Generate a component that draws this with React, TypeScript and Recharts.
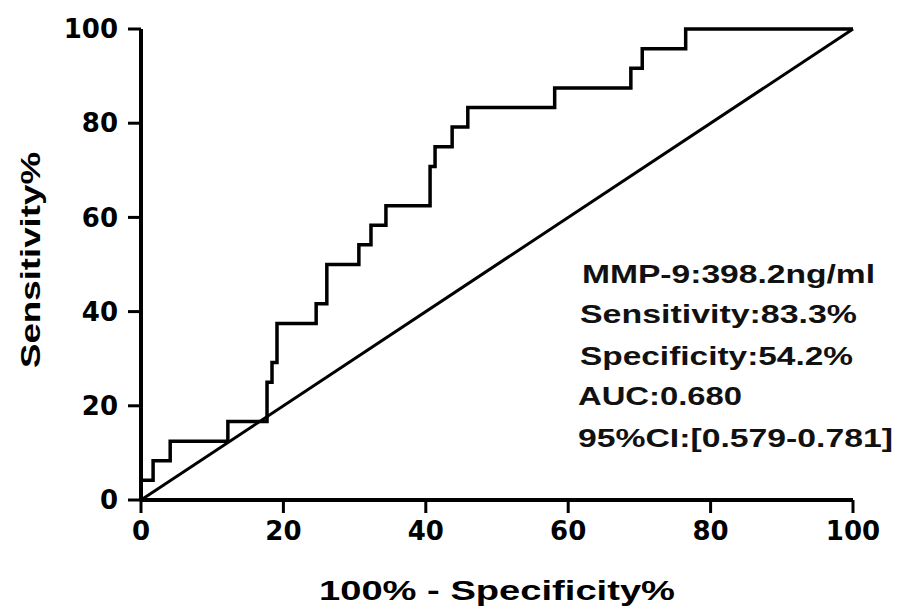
import React from 'react';
import { LineChart, Line, XAxis, YAxis, Label, Customized } from 'recharts';

// ROC curve corners (100% - specificity, sensitivity)
const fpr = [0, 0, 1.7, 4.1, 12.2, 17.7, 18.4, 19.1, 24.6, 26.1, 30.6, 32.3, 34.4, 40.6, 41.3, 43.7, 45.9, 58.1, 68.8, 70.4, 76.5, 100];
const sens = [0, 4.17, 8.33, 12.5, 16.67, 25, 29.17, 37.5, 41.67, 50, 54.17, 58.33, 62.5, 70.83, 75, 79.17, 83.33, 87.5, 91.67, 95.83, 100, 100];

const refX = [0, 100];
const refY = [0, 100];

const ticks = [0, 20, 40, 60, 80, 100];

const notes = [
  'MMP-9:398.2ng/ml',
  'Sensitivity:83.3%',
  'Specificity:54.2%',
  'AUC:0.680',
  '95%CI:[0.579-0.781]',
];

const rocData = fpr.map((x, i) => ({ x, y: sens[i] }));
const refData = refX.map((x, i) => ({ x, y: refY[i] }));

const tickStyle = {
  fill: '#000',
  fontSize: 26,
  fontWeight: 'bold',
  fontFamily: 'DejaVu Sans',
};

const noteLayout = [
  { x: 582, y: 283, len: 293 },
  { x: 580, y: 323, len: 277 },
  { x: 580, y: 365, len: 273 },
  { x: 578, y: 405, len: 164 },
  { x: 578, y: 447, len: 315 },
];

const Notes = () => (
  <g>
    {notes.map((t, i) => (
      <text
        key={t}
        x={noteLayout[i].x}
        y={noteLayout[i].y}
        textLength={noteLayout[i].len}
        lengthAdjust="spacingAndGlyphs"
        fontSize={25}
        fontWeight="bold"
        fontFamily="Liberation Sans"
        fill="#111"
      >
        {t}
      </text>
    ))}
  </g>
);

const App: React.FC = () => {
  return (
    <div style={{ position: 'absolute', left: 0, top: 0, background: '#fff' }}>
      <LineChart
        width={898}
        height={613}
        margin={{ top: 29, right: 45, bottom: 53, left: 41 }}
      >
        <XAxis
          type="number"
          dataKey="x"
          domain={[0, 100]}
          ticks={ticks}
          height={60}
          tickSize={13}
          tickMargin={9}
          tick={tickStyle}
          axisLine={{ stroke: '#000', strokeWidth: 4 }}
          tickLine={{ stroke: '#000', strokeWidth: 3 }}
        >
          <Label
            content={(p: any) => {
              const vb = p.viewBox;
              return (
                <text
                  x={vb.x + vb.width / 2}
                  y={600}
                  textAnchor="middle"
                  textLength={356}
                  lengthAdjust="spacingAndGlyphs"
                  fontSize={28}
                  fontWeight="bold"
                  fontFamily="Liberation Sans"
                  fill="#000"
                >
                  100% - Specificity%
                </text>
              );
            }}
          />
        </XAxis>
        <YAxis
          type="number"
          dataKey="y"
          domain={[0, 100]}
          ticks={ticks}
          width={100}
          tickSize={13}
          tickMargin={10}
          tick={tickStyle}
          axisLine={{ stroke: '#000', strokeWidth: 4 }}
          tickLine={{ stroke: '#000', strokeWidth: 3 }}
        >
          <Label
            content={() => (
              <text
                x={40}
                y={260}
                transform="rotate(-90 40 260)"
                textAnchor="middle"
                textLength={216}
                lengthAdjust="spacingAndGlyphs"
                fontSize={28}
                fontWeight="bold"
                fontFamily="Liberation Sans"
                fill="#000"
              >
                Sensitivity%
              </text>
            )}
          />
        </YAxis>
        <Line
          data={refData}
          dataKey="y"
          type="linear"
          stroke="#000"
          strokeWidth={3}
          dot={false}
          isAnimationActive={false}
        />
        <Line
          data={rocData}
          dataKey="y"
          type="stepAfter"
          stroke="#000"
          strokeWidth={3.5}
          dot={false}
          isAnimationActive={false}
        />
        <Customized component={<Notes />} />
      </LineChart>
    </div>
  );
};

export default App;
